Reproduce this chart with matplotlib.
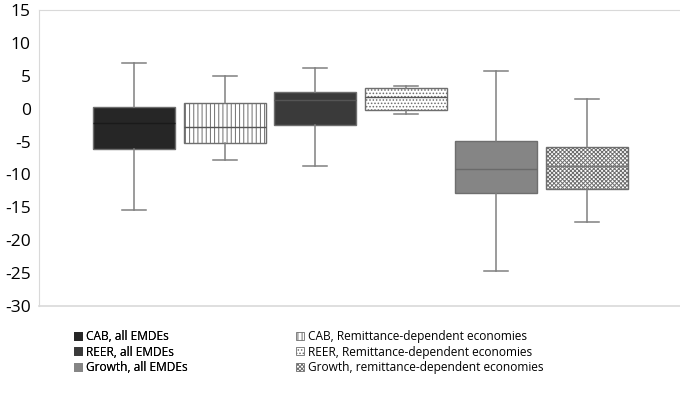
import matplotlib
matplotlib.use("Agg")
import matplotlib.pyplot as plt
from matplotlib.patches import Patch

plt.rcParams['font.family'] = ['Open Sans', 'DejaVu Sans']
plt.rcParams['axes.unicode_minus'] = False
plt.rcParams['hatch.color'] = '#7a7a7a'
plt.rcParams['hatch.linewidth'] = 0.7

# data
labels = ['CAB, all EMDEs', 'CAB, Remittance-dependent economies',
          'REER, all EMDEs', 'REER, Remittance-dependent economies',
          'Growth, all EMDEs', 'Growth, remittance-dependent economies']
whislo = [-15.4, -7.8, -8.7, -0.8, -24.7, -17.2]
q1 = [-6.2, -5.2, -2.5, -0.2, -12.8, -12.2]
med = [-2.2, -2.8, 1.3, 1.8, -9.1, -8.7]
q3 = [0.2, 0.8, 2.6, 3.1, -4.9, -5.9]
whishi = [7.0, 5.0, 6.2, 3.5, 5.7, 1.4]

fills = ['#262626', 'white', '#3a3a3a', 'white', '#858585', 'white']
hatches = [None, '||||', None, '.....', None, 'xxxxxxxx']
medc = ['#1a1a1a', '#555555', '#555555', '#555555', '#6a6a6a', '#777777']

stats = []
for i in range(6):
    stats.append(dict(label=labels[i], whislo=whislo[i], q1=q1[i], med=med[i],
                      q3=q3[i], whishi=whishi[i], fliers=[]))

fig = plt.figure(figsize=(6.8, 3.93), dpi=100)
ax = fig.add_axes([39/680, 1 - 306/393, 641/680, 296/393])

pos = [1, 2, 3, 4, 5, 6]
bp = ax.bxp(stats, positions=pos, widths=0.905, patch_artist=True,
            showfliers=False, capwidths=0.265,
            whiskerprops=dict(color='#808080', lw=1.1),
            capprops=dict(color='#808080', lw=1.1),
            medianprops=dict(lw=1.0))
for i, b in enumerate(bp['boxes']):
    b.set_facecolor(fills[i])
    b.set_edgecolor('#6e6e6e')
    b.set_linewidth(1.0)
    if hatches[i]:
        b.set_hatch(hatches[i])
    bp['medians'][i].set_color(medc[i])

ax.set_xlim(-0.05, 7.03)
ax.set_ylim(-30, 15)
ax.set_yticks(range(-30, 16, 5))
ax.set_xticks([])
ax.tick_params(axis='y', length=0, pad=6, labelsize=12.5)
for s in ['right', 'bottom']:
    ax.spines[s].set_visible(False)
ax.spines['left'].set_color('#d9d9d9')
ax.spines['top'].set_color('#d9d9d9')
ax.axhline(-30, color='#d9d9d9', lw=1.2, clip_on=False)

def handle(i):
    return Patch(facecolor=fills[i], edgecolor='#6e6e6e' if hatches[i] else fills[i],
                 hatch=hatches[i], lw=0.6, label=labels[i])

kw = dict(loc='upper left', frameon=False, fontsize=8.6, handlelength=0.65,
          handleheight=0.65, handletextpad=0.35, labelspacing=0.22, borderaxespad=0,
          borderpad=0)
leg1 = fig.legend(handles=[handle(i) for i in [0, 2, 4]],
                  bbox_to_anchor=(74/680, 1 - 330/393), **kw)
fig.add_artist(leg1)
fig.legend(handles=[handle(i) for i in [1, 3, 5]],
           bbox_to_anchor=(296/680, 1 - 330/393), **kw)

fig.savefig('out.png', dpi=100)
